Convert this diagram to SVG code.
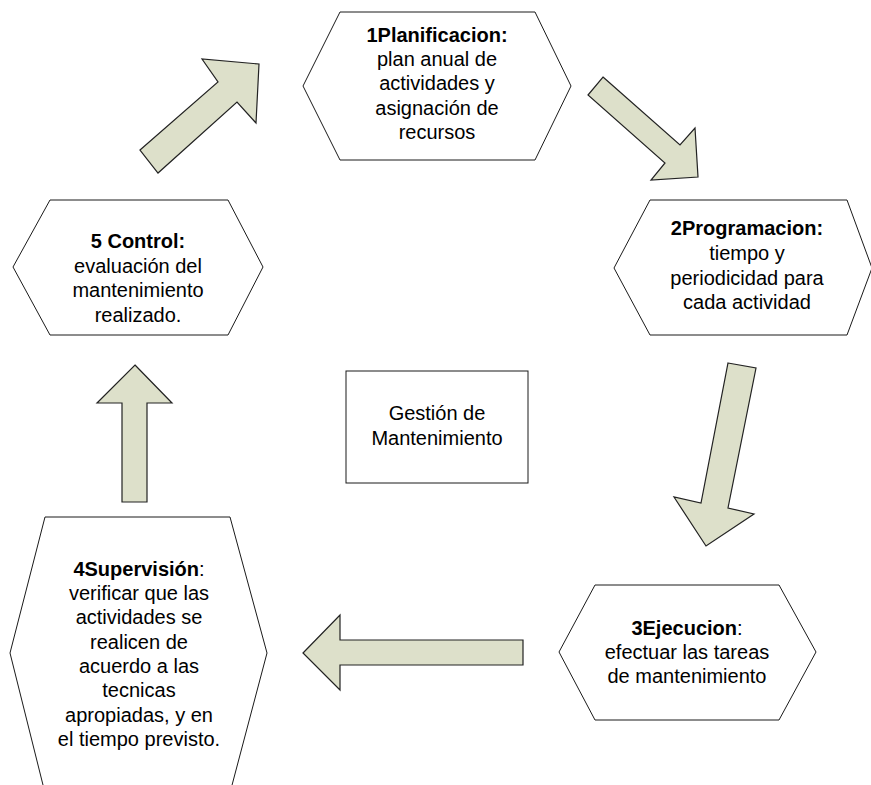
<svg xmlns="http://www.w3.org/2000/svg" width="871" height="785" viewBox="0 0 871 785">
  <style>
    .hex { fill: #ffffff; stroke: #1a1a1a; stroke-width: 1; }
    .box { fill: #ffffff; stroke: #1a1a1a; stroke-width: 1; }
    .arrow { fill: #dde0ca; stroke: #222222; stroke-width: 1.2; stroke-linejoin: miter; }
    text { font-family: "Liberation Sans", Arial, sans-serif; font-size: 20px; fill: #000000; text-anchor: middle; }
    .b { font-weight: bold; }
  </style>
  <rect x="0" y="0" width="871" height="785" fill="#ffffff"/>

  <!-- cycle arrows between the stages -->
  <g id="connectors">
    <polygon class="arrow" points="140,150 218,82 202,59 259,64 256,123 237,102 158,173"/>
    <polygon class="arrow" points="603,77 680,145 695,128 698,177 651,180 665,163 588,95"/>
    <polygon class="arrow" points="728,363 756,368 728,508 754,514 706,546 674,497 701,503"/>
    <polygon class="arrow" points="303,653 340,615 340,640 523,640 523,665 340,665 340,690"/>
    <polygon class="arrow" points="135,365 172,403 147,403 147,502 122,502 122,403 97,403"/>
  </g>

  <g id="node-planificacion">
    <polygon class="hex" points="340,12 535,12 571,86 535,160 340,160 303,86"/>
    <text x="437" y="42"><tspan class="b">1Planificacion:</tspan></text>
    <text x="437" y="66">plan anual de</text>
    <text x="437" y="90">actividades y</text>
    <text x="437" y="115">asignación de</text>
    <text x="437" y="139">recursos</text>
  </g>

  <g id="node-programacion">
    <polygon class="hex" points="650,200 847,200 872,268 847,335 650,335 614,268"/>
    <text x="747" y="235"><tspan class="b">2Programacion:</tspan></text>
    <text x="747" y="260">tiempo y</text>
    <text x="747" y="285">periodicidad para</text>
    <text x="747" y="309">cada actividad</text>
  </g>

  <g id="node-ejecucion">
    <polygon class="hex" points="595,585 779,585 816,652 779,720 595,720 559,652"/>
    <text x="687" y="635"><tspan class="b">3Ejecucion</tspan>:</text>
    <text x="687" y="659">efectuar las tareas</text>
    <text x="687" y="683">de mantenimiento</text>
  </g>

  <g id="node-supervision">
    <polygon class="hex" points="45,517 230,517 267,653 231,789 44,789 10,653"/>
    <text x="139" y="576"><tspan class="b">4Supervisión</tspan>:</text>
    <text x="139" y="600">verificar que las</text>
    <text x="139" y="624">actividades se</text>
    <text x="139" y="649">realicen de</text>
    <text x="139" y="673">acuerdo a las</text>
    <text x="139" y="697">tecnicas</text>
    <text x="139" y="722">apropiadas, y en</text>
    <text x="139" y="746">el tiempo previsto.</text>
  </g>

  <g id="node-control">
    <polygon class="hex" points="50,200 228,200 263,267 228,335 50,335 13,267"/>
    <text x="138" y="248"><tspan class="b">5 Control:</tspan></text>
    <text x="138" y="273">evaluación del</text>
    <text x="138" y="297">mantenimiento</text>
    <text x="138" y="322">realizado.</text>
  </g>

  <g id="node-gestion">
    <rect class="box" x="346" y="371" width="182" height="112"/>
    <text x="437" y="420">Gestión de</text>
    <text x="437" y="445">Mantenimiento</text>
  </g>
</svg>
